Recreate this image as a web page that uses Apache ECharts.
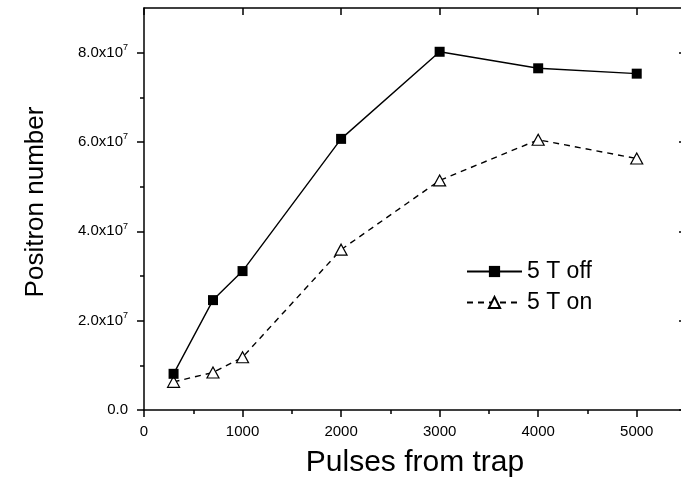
<!DOCTYPE html>
<html>
<head>
<meta charset="utf-8">
<script src="https://cdn.jsdelivr.net/npm/echarts@6/dist/echarts.min.js"></script>
<style>
  html, body { margin: 0; padding: 0; background: #fff; }
  #chart { width: 681px; height: 484px; }
</style>
</head>
<body>
<div id="chart"></div>
<script>
// Pulses accumulated from the trap
const pulses = [300, 700, 1000, 2000, 3000, 4000, 5000];
// Positron counts with the 5 T magnet off / on
const magnetOff = [0.81e7, 2.46e7, 3.11e7, 6.07e7, 8.02e7, 7.65e7, 7.53e7];
const magnetOn  = [0.63e7, 0.84e7, 1.18e7, 3.59e7, 5.14e7, 6.05e7, 5.63e7];

// Tick positions
const xMajor = [0, 1000, 2000, 3000, 4000, 5000];
const xMinor = [500, 1500, 2500, 3500, 4500];
const yMajor = [0, 2e7, 4e7, 6e7, 8e7];
const yMinor = [1e7, 3e7, 5e7, 7e7];

const X_MAX = 5500;
const Y_MAX = 9e7;
const FONT = 'Liberation Sans, Arial, sans-serif';
const INK = '#000';

function toPairs(xs, ys) {
  return xs.map((x, i) => [x, ys[i]]);
}

function yLabel(v) {
  if (v === 0) return '{m|0.0}';
  return '{m|' + (v / 1e7).toFixed(1) + 'x10}{e|7}';
}

function frameAxis(extra) {
  return Object.assign({
    type: 'value',
    gridIndex: 0,
    splitLine: { show: false },
    axisLine: { show: false, lineStyle: { color: INK, width: 1.5 } },
    axisLabel: { show: false },
    axisTick: { show: true, lineStyle: { color: INK, width: 1.5 } }
  }, extra);
}

const chart = echarts.init(document.getElementById('chart'), null, { renderer: 'canvas' });

chart.setOption({
  animation: false,
  backgroundColor: '#fff',
  textStyle: { fontFamily: FONT, color: INK },
  grid: {
    left: 144, top: 8, width: 542, height: 402,
    containLabel: false,
    outerBoundsMode: 'none'
  },
  legend: {
    orient: 'vertical',
    left: 466,
    top: 260,
    padding: 0,
    itemWidth: 55,
    itemHeight: 14,
    itemGap: 8,
    textStyle: { fontFamily: FONT, fontSize: 23, color: INK, lineHeight: 23 },
    data: ['5 T off', '5 T on']
  },
  xAxis: [
    frameAxis({
      position: 'bottom', min: 0, max: X_MAX,
      axisLine: { show: true, onZero: false, lineStyle: { color: INK, width: 1.5 } },
      axisTick: { show: true, length: 7, customValues: xMajor, lineStyle: { color: INK, width: 1.5 } },
      axisLabel: {
        show: true, customValues: xMajor, fontFamily: FONT, fontSize: 15, color: INK, margin: 14,
        formatter: (v) => String(v)
      },
      name: 'Pulses from trap',
      nameLocation: 'middle',
      nameGap: 38,
      nameTextStyle: { fontFamily: FONT, fontSize: 30, color: INK }
    }),
    frameAxis({
      position: 'bottom', min: 0, max: X_MAX,
      axisTick: { show: true, length: 4, customValues: xMinor, lineStyle: { color: INK, width: 1.5 } }
    }),
    frameAxis({
      position: 'top', min: 0, max: X_MAX,
      axisLine: { show: true, onZero: false, lineStyle: { color: INK, width: 1.5 } },
      axisTick: { show: true, inside: true, length: 7, customValues: xMajor, lineStyle: { color: INK, width: 1.5 } }
    }),
    frameAxis({
      position: 'top', min: 0, max: X_MAX,
      axisTick: { show: true, inside: true, length: 4, customValues: xMinor, lineStyle: { color: INK, width: 1.5 } }
    })
  ],
  yAxis: [
    frameAxis({
      position: 'left', min: 0, max: Y_MAX,
      axisLine: { show: true, onZero: false, lineStyle: { color: INK, width: 1.5 } },
      axisTick: { show: true, length: 7, customValues: yMajor, lineStyle: { color: INK, width: 1.5 } },
      axisLabel: {
        show: true, customValues: yMajor, margin: 16,
        formatter: yLabel,
        rich: {
          m: { fontFamily: FONT, fontSize: 15, color: INK },
          e: { fontFamily: FONT, fontSize: 9, color: INK, padding: [0, 0, 10, 0] }
        }
      },
      name: 'Positron number',
      nameLocation: 'middle',
      nameGap: 95,
      nameTextStyle: { fontFamily: FONT, fontSize: 26, color: INK, padding: [0, 0, 0, 14] }
    }),
    frameAxis({
      position: 'left', min: 0, max: Y_MAX,
      axisTick: { show: true, length: 4, customValues: yMinor, lineStyle: { color: INK, width: 1.5 } }
    }),
    frameAxis({
      position: 'right', min: 0, max: Y_MAX,
      axisLine: { show: true, onZero: false, lineStyle: { color: INK, width: 1.5 } },
      axisTick: { show: true, inside: true, length: 7, customValues: yMajor, lineStyle: { color: INK, width: 1.5 } }
    }),
    frameAxis({
      position: 'right', min: 0, max: Y_MAX,
      axisTick: { show: true, inside: true, length: 4, customValues: yMinor, lineStyle: { color: INK, width: 1.5 } }
    })
  ],
  series: [
    {
      name: '5 T off',
      type: 'line',
      xAxisIndex: 0, yAxisIndex: 0,
      data: toPairs(pulses, magnetOff),
      symbol: 'rect',
      symbolSize: 10,
      showAllSymbol: true,
      lineStyle: { color: INK, width: 1.4, type: 'solid' },
      itemStyle: { color: INK, borderColor: INK, borderWidth: 0 },
      z: 3
    },
    {
      name: '5 T on',
      type: 'line',
      xAxisIndex: 0, yAxisIndex: 0,
      data: toPairs(pulses, magnetOn),
      symbol: 'triangle',
      symbolSize: [12, 11],
      showAllSymbol: true,
      lineStyle: { color: INK, width: 1.4, type: [6, 5] },
      itemStyle: { color: '#fff', borderColor: INK, borderWidth: 1.2 },
      z: 2
    }
  ]
});
</script>
</body>
</html>
